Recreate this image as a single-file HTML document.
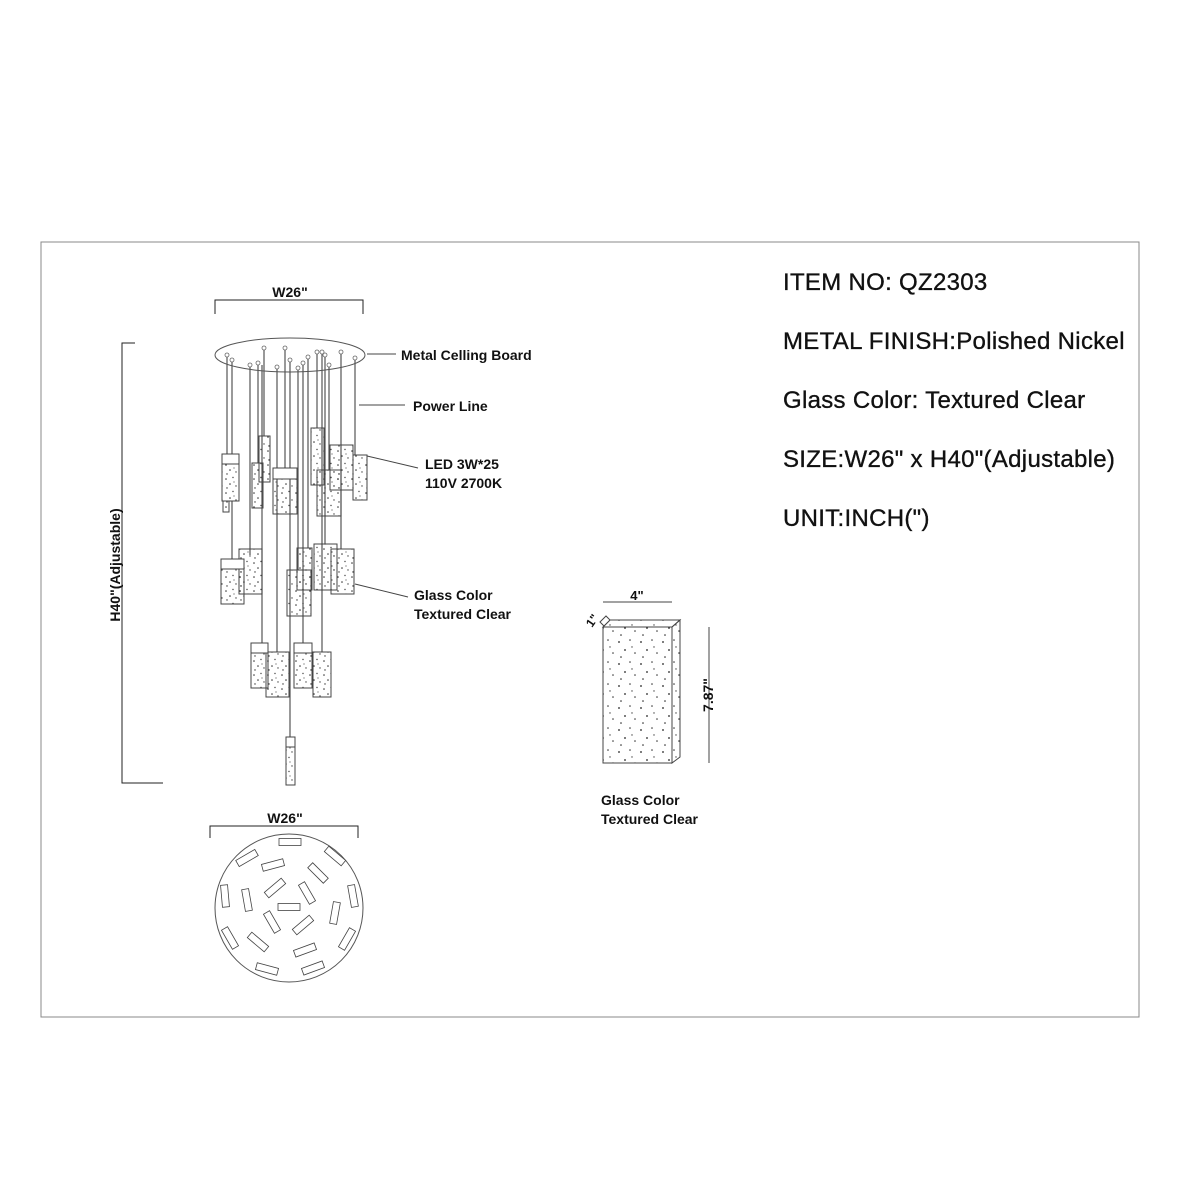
<!DOCTYPE html>
<html><head><meta charset="utf-8"><style>
html,body{margin:0;padding:0;background:#fff;}
svg{display:block;}
text{font-family:"Liberation Sans",Arial,sans-serif;fill:#111;}
</style></head><body>
<svg width="1200" height="1200" viewBox="0 0 1200 1200" xmlns="http://www.w3.org/2000/svg">
<defs>
<pattern id="dots" width="14" height="14" patternUnits="userSpaceOnUse">
<circle cx="2" cy="3" r="0.8" fill="#333"/><circle cx="9" cy="1.5" r="0.7" fill="#444"/>
<circle cx="6" cy="8" r="0.8" fill="#333"/><circle cx="12" cy="10" r="0.7" fill="#444"/>
<circle cx="3" cy="12" r="0.7" fill="#333"/><circle cx="10" cy="6" r="0.6" fill="#555"/>
</pattern>
<pattern id="dots2" width="22" height="22" patternUnits="userSpaceOnUse">
<circle cx="3" cy="4" r="0.9" fill="#222"/><circle cx="14" cy="2" r="0.8" fill="#333"/>
<circle cx="9" cy="12" r="0.9" fill="#222"/><circle cx="19" cy="15" r="0.8" fill="#333"/>
<circle cx="5" cy="19" r="0.8" fill="#222"/><circle cx="16" cy="9" r="0.7" fill="#444"/>
</pattern>
</defs>
<rect x="41" y="242" width="1098" height="775" fill="none" stroke="#888" stroke-width="1"/>

<!-- right text -->
<g font-size="24" stroke="#111" stroke-width="0.35" letter-spacing="0.3">
<text x="783" y="290">ITEM NO: QZ2303</text>
<text x="783" y="349">METAL FINISH:Polished Nickel</text>
<text x="783" y="408">Glass Color: Textured Clear</text>
<text x="783" y="467">SIZE:W26" x H40"(Adjustable)</text>
<text x="783" y="526">UNIT:INCH(")</text>
</g>

<!-- top dimension -->
<g stroke="#222" stroke-width="1" fill="none">
<path d="M215 314V300H363V314"/>
<path d="M135 343H122V783H163"/>
<path d="M210 838V826H358V838"/>
</g>
<g font-weight="bold">
<text x="290" y="297" font-size="14" text-anchor="middle">W26"</text>
<text x="285" y="823" font-size="14" text-anchor="middle">W26"</text>
<text transform="translate(120,565) rotate(-90)" font-size="14" text-anchor="middle">H40"(Adjustable)</text>
</g>

<!-- labels -->
<g font-size="14" font-weight="bold">
<text x="401" y="360">Metal Celling Board</text>
<text x="413" y="411">Power Line</text>
<text x="425" y="469">LED 3W*25</text>
<text x="425" y="488">110V 2700K</text>
<text x="414" y="600">Glass Color</text>
<text x="414" y="619">Textured Clear</text>
<text x="601" y="805">Glass Color</text>
<text x="601" y="824">Textured Clear</text>
</g>
<g stroke="#444" stroke-width="1">
<line x1="367" y1="354" x2="396" y2="354"/>
<line x1="359" y1="405" x2="405" y2="405"/>
<line x1="367" y1="456" x2="418" y2="468"/>
<line x1="355" y1="584" x2="408" y2="597"/>
</g>

<!-- chandelier -->
<g fill="#fff" stroke="#555" stroke-width="1">
<ellipse cx="290" cy="355" rx="75" ry="17"/>
</g>
<g stroke="#555" stroke-width="1.2">
<line x1="227" y1="355" x2="227" y2="454"/><line x1="232" y1="360" x2="232" y2="454"/>
<line x1="250" y1="365" x2="250" y2="555"/><line x1="258" y1="363" x2="258" y2="463"/>
<line x1="264" y1="348" x2="264" y2="436"/><line x1="262" y1="365" x2="262" y2="643"/>
<line x1="277" y1="367" x2="277" y2="652"/><line x1="285" y1="348" x2="285" y2="468"/>
<line x1="290" y1="360" x2="290" y2="737"/><line x1="298" y1="368" x2="298" y2="570"/>
<line x1="303" y1="363" x2="303" y2="643"/><line x1="308" y1="357" x2="308" y2="548"/>
<line x1="317" y1="352" x2="317" y2="428"/><line x1="322" y1="352" x2="322" y2="652"/>
<line x1="325" y1="355" x2="325" y2="544"/><line x1="329" y1="365" x2="329" y2="470"/>
<line x1="341" y1="352" x2="341" y2="549"/><line x1="355" y1="358" x2="355" y2="455"/>
<line x1="232" y1="501" x2="232" y2="559"/>
</g>
<g fill="#fff" stroke="#666" stroke-width="0.8">
<circle cx="227" cy="355" r="2"/><circle cx="232" cy="360" r="2"/><circle cx="250" cy="365" r="2"/>
<circle cx="264" cy="348" r="2"/><circle cx="258" cy="363" r="2"/><circle cx="277" cy="367" r="2"/>
<circle cx="285" cy="348" r="2"/><circle cx="290" cy="360" r="2"/><circle cx="298" cy="368" r="2"/>
<circle cx="303" cy="363" r="2"/><circle cx="308" cy="357" r="2"/><circle cx="317" cy="352" r="2"/>
<circle cx="322" cy="352" r="2"/><circle cx="329" cy="365" r="2"/><circle cx="341" cy="352" r="2"/>
<circle cx="355" cy="358" r="2"/><circle cx="325" cy="355" r="2"/>
</g>
<g stroke="#444" stroke-width="1" fill="url(#dots)">
<rect x="222" y="454" width="17" height="47"/><rect x="223" y="501" width="6" height="11"/>
<rect x="252" y="463" width="11" height="45"/>
<rect x="259" y="436" width="11" height="46"/>
<rect x="273" y="468" width="24" height="46"/>
<rect x="311" y="428" width="13" height="57"/>
<rect x="317" y="470" width="24" height="46"/>
<rect x="330" y="445" width="23" height="45"/>
<rect x="353" y="455" width="14" height="45"/>
<rect x="221" y="559" width="23" height="45"/>
<rect x="239" y="549" width="23" height="45"/>
<rect x="297" y="548" width="15" height="42"/>
<rect x="314" y="544" width="23" height="46"/>
<rect x="331" y="549" width="23" height="45"/>
<rect x="287" y="570" width="24" height="46"/>
<rect x="251" y="643" width="17" height="45"/>
<rect x="266" y="652" width="23" height="45"/>
<rect x="294" y="643" width="18" height="45"/>
<rect x="313" y="652" width="18" height="45"/>
<rect x="286" y="737" width="9" height="48"/>
</g>
<g stroke="#444" stroke-width="1" fill="#fff">
<rect x="222" y="454" width="17" height="10"/><rect x="273" y="468" width="24" height="11"/>
<rect x="221" y="559" width="23" height="10"/><rect x="286" y="737" width="9" height="10"/>
<rect x="251" y="643" width="17" height="10"/><rect x="294" y="643" width="18" height="10"/>
</g>

<!-- top view -->
<circle cx="289" cy="908" r="74" fill="none" stroke="#555" stroke-width="1"/>
<g fill="#fff" stroke="#444" stroke-width="0.8">
<rect x="-11" y="-3.5" width="22" height="7" transform="translate(290,842)"/>
<rect x="-11" y="-3.5" width="22" height="7" transform="translate(247,858) rotate(-30)"/>
<rect x="-11" y="-3.5" width="22" height="7" transform="translate(335,856) rotate(40)"/>
<rect x="-11" y="-3.5" width="22" height="7" transform="translate(273,865) rotate(-15)"/>
<rect x="-11" y="-3.5" width="22" height="7" transform="translate(318,873) rotate(45)"/>
<rect x="-11" y="-3.5" width="22" height="7" transform="translate(225,896) rotate(85)"/>
<rect x="-11" y="-3.5" width="22" height="7" transform="translate(247,900) rotate(80)"/>
<rect x="-11" y="-3.5" width="22" height="7" transform="translate(275,888) rotate(-40)"/>
<rect x="-11" y="-3.5" width="22" height="7" transform="translate(307,893) rotate(60)"/>
<rect x="-11" y="-3.5" width="22" height="7" transform="translate(353,896) rotate(80)"/>
<rect x="-11" y="-3.5" width="22" height="7" transform="translate(289,907)"/>
<rect x="-11" y="-3.5" width="22" height="7" transform="translate(335,913) rotate(-80)"/>
<rect x="-11" y="-3.5" width="22" height="7" transform="translate(272,922) rotate(60)"/>
<rect x="-11" y="-3.5" width="22" height="7" transform="translate(303,925) rotate(-40)"/>
<rect x="-11" y="-3.5" width="22" height="7" transform="translate(230,938) rotate(60)"/>
<rect x="-11" y="-3.5" width="22" height="7" transform="translate(258,942) rotate(40)"/>
<rect x="-11" y="-3.5" width="22" height="7" transform="translate(347,939) rotate(-60)"/>
<rect x="-11" y="-3.5" width="22" height="7" transform="translate(305,950) rotate(-20)"/>
<rect x="-11" y="-3.5" width="22" height="7" transform="translate(267,969) rotate(15)"/>
<rect x="-11" y="-3.5" width="22" height="7" transform="translate(313,968) rotate(-20)"/>
</g>

<!-- glass block -->
<g stroke="#444" stroke-width="1">
<polygon points="603,627 610,620 680,620 672,627" fill="url(#dots2)"/>
<polygon points="672,627 680,620 680,757 672,763" fill="url(#dots2)"/>
<rect x="603" y="627" width="69" height="136" fill="url(#dots2)"/>
<line x1="603" y1="602" x2="672" y2="602"/>
<line x1="709" y1="627" x2="709" y2="763"/>
<polygon points="600,622 606,616 610,620 604,626" fill="#fff"/>
</g>
<text x="637" y="600" font-size="13" font-weight="bold" text-anchor="middle">4"</text>
<text transform="translate(592,628) rotate(-55)" font-size="12" font-weight="bold">1"</text>
<text transform="translate(713,695) rotate(-90)" font-size="14" font-weight="bold" text-anchor="middle">7.87"</text>
</svg>
</body></html>
